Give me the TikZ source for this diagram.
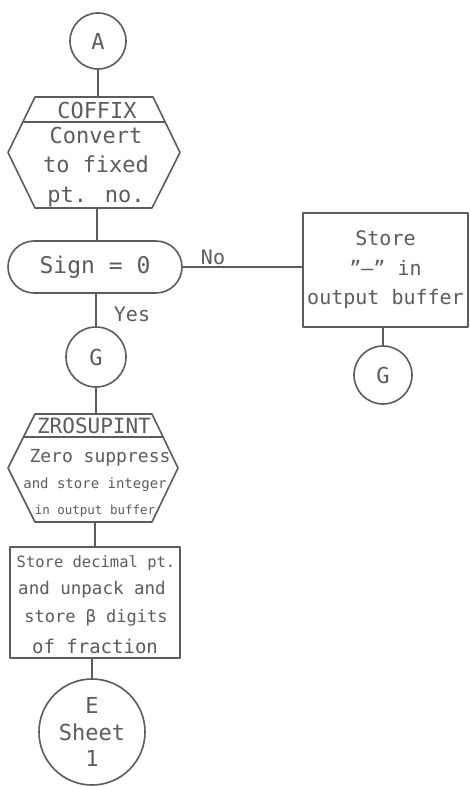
\documentclass[tikz,border=0pt]{standalone}
\usepackage{fontspec}
\setmainfont{DejaVu Sans Mono}
\definecolor{pencil}{RGB}{92,92,92}
\newcommand\handsz[2]{\fontsize{#1}{#2}\selectfont}
\tikzset{
  ln/.style={draw=pencil, line width=1.6pt, line join=round, line cap=round},
  txt/.style={text=pencil, inner sep=0pt, align=center},
  conn/.style={circle, ln, txt, minimum size=#1},
  stepbox/.style={rectangle, ln, txt},
  area/.style={rectangle, inner sep=0pt},
}
\begin{document}
\begin{tikzpicture}[x=1pt,y=-1pt]
\useasboundingbox (0,0) rectangle (471,787);
\fill[white] (0,0) rectangle (471,787);

% entry connector
\node[conn=56, font=\handsz{22}{24}] (A) at (98,41) {A};

% COFFIX subroutine block
\node[area, minimum width=172, minimum height=111] (cof) at (94,152.5) {};
\draw[ln] (35,97) -- (153,97) -- (180,152.5) -- (152,208) -- (35,208) -- (8,152.5) -- cycle;
\draw[ln] (23,122) -- (165,122);
\node[txt, font=\handsz{22}{24}] (cofname) at (97,110) {COFFIX};
\node[txt, font=\handsz{22}{29.5}] (cofbody) at (96,167) {Convert\\to fixed\\pt. no.};

% sign test
\node[stepbox, rounded corners=26, minimum width=174, minimum height=52, font=\handsz{23}{26}] (sign) at (95,267) {Sign = 0};

% negative branch
\node[stepbox, minimum width=165, minimum height=114, font=\handsz{20}{29.5}] (neg) at (385.5,270) {Store\\"–" in\\output buffer};
\node[conn=58, font=\handsz{22}{24}] (G2) at (383,375) {G};
\node[txt, font=\handsz{20}{24}] (no) at (213,257) {No};
\node[txt, font=\handsz{20}{24}] (yes) at (132,314) {Yes};

% positive branch
\node[conn=60, font=\handsz{22}{24}] (G1) at (96,357) {G};

% ZROSUPINT subroutine block
\node[area, minimum width=170, minimum height=108] (zro) at (93,468) {};
\draw[ln] (35,414) -- (152,414) -- (178,468) -- (152,522) -- (35,522) -- (8,468) -- cycle;
\draw[ln] (23.5,437) -- (163,437);
\node[txt, font=\handsz{21}{24}] (zroname) at (94,426) {ZROSUPINT};
\node[txt, font=\handsz{18}{24}] (zro1) at (100,458) {Zero suppress};
\node[txt, font=\handsz{14}{24}] (zro2) at (95,485) {and store integer};
\node[txt, font=\handsz{12.5}{24}] (zro3) at (95,511) {in output buffer};

% fraction block
\node[stepbox, minimum width=170, minimum height=111] (frac) at (95,602.5) {};
\node[txt, font=\handsz{15.5}{24}] (fr1) at (96,563) {Store decimal pt.};
\node[txt, font=\handsz{17.5}{24}] (fr2) at (92,590) {and unpack and};
\node[txt, font=\handsz{17}{24}] (fr3) at (96,618) {store β digits};
\node[txt, font=\handsz{19}{24}] (fr4) at (95,646) {of fraction};

% off-page connector
\node[conn=106, font=\handsz{22}{26.5}] (E) at (92,732) {E\\Sheet\\1};

% flow lines
\draw[ln] (A.south) -- (A.south |- cof.north);
\draw[ln] ([xshift=3pt]cof.south) -- ([xshift=3pt]cof.south |- sign.north);
\draw[ln] (G1.north) -- (G1.north |- sign.south);
\draw[ln] (sign.east) -- (sign.east -| neg.west);
\draw[ln] (G2.north) -- (G2.north |- neg.south);
\draw[ln] (G1.south) -- (G1.south |- zro.north);
\draw[ln] (frac.north) -- (frac.north |- zro.south);
\draw[ln] (E.north) -- (E.north |- frac.south);
\end{tikzpicture}
\end{document}
